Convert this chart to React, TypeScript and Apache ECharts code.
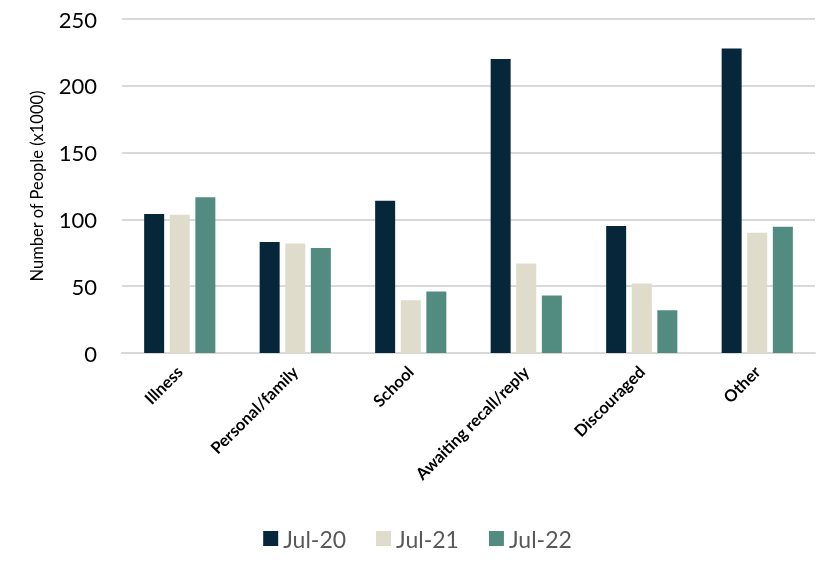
import React, { useEffect, useRef } from "react";
import * as echarts from "echarts";

const categories = ["Illness", "Personal/family", "School", "Awaiting recall/reply", "Discouraged", "Other"];
const seriesNames = ["Jul-20", "Jul-21", "Jul-22"];
const jul20 = [104, 83, 114, 220, 95, 228];
const jul21 = [103.5, 82, 39.5, 67, 52, 90];
const jul22 = [116.5, 78.5, 46, 43, 32, 94.5];
const colors = ["#062639", "#dfdccb", "#528c80"];
const yTicks = { min: 0, max: 250, interval: 50 };

export default function App() {
  const ref = useRef<HTMLDivElement>(null);
  useEffect(() => {
    const chart = echarts.init(ref.current!, null, { renderer: "svg" });
    const font = "Lato, 'Open Sans', sans-serif";
    const data = [jul20, jul21, jul22];
    chart.setOption({
      animation: false,
      grid: { left: 122, right: 20, top: 19, bottom: 219 },
      legend: {
        bottom: 17,
        left: "center",
        itemWidth: 15,
        itemHeight: 15,
        itemGap: 30,
        icon: "rect",
        textStyle: { fontSize: 23, color: "#595959", fontFamily: font },
        data: seriesNames,
      },
      xAxis: {
        type: "category",
        data: categories,
        axisLine: { lineStyle: { color: "#d9d9d9", width: 2 } },
        axisTick: { show: false },
        axisLabel: {
          rotate: 45,
          interval: 0,
          margin: 16,
          fontSize: 16.5,
          fontWeight: "bold",
          color: "#000",
          fontFamily: font,
        },
      },
      yAxis: {
        type: "value",
        min: yTicks.min,
        max: yTicks.max,
        interval: yTicks.interval,
        name: "Number of People (x1000)",
        nameLocation: "middle",
        nameGap: 77,
        nameTextStyle: { fontSize: 16.5, color: "#000", fontFamily: font },
        axisLine: { show: false },
        axisTick: { show: false },
        axisLabel: { fontSize: 22, color: "#000", margin: 25, fontFamily: font },
        splitLine: { lineStyle: { color: "#d9d9d9", width: 2 } },
      },
      series: seriesNames.map((n, i) => ({
        name: n,
        type: "bar",
        data: data[i],
        barWidth: 20,
        barGap: "28%",
        itemStyle: { color: colors[i] },
      })),
    });
    return () => chart.dispose();
  }, []);
  return (
    <div
      ref={ref}
      style={{ position: "fixed", left: 0, top: 0, width: 835, height: 572 }}
    />
  );
}
